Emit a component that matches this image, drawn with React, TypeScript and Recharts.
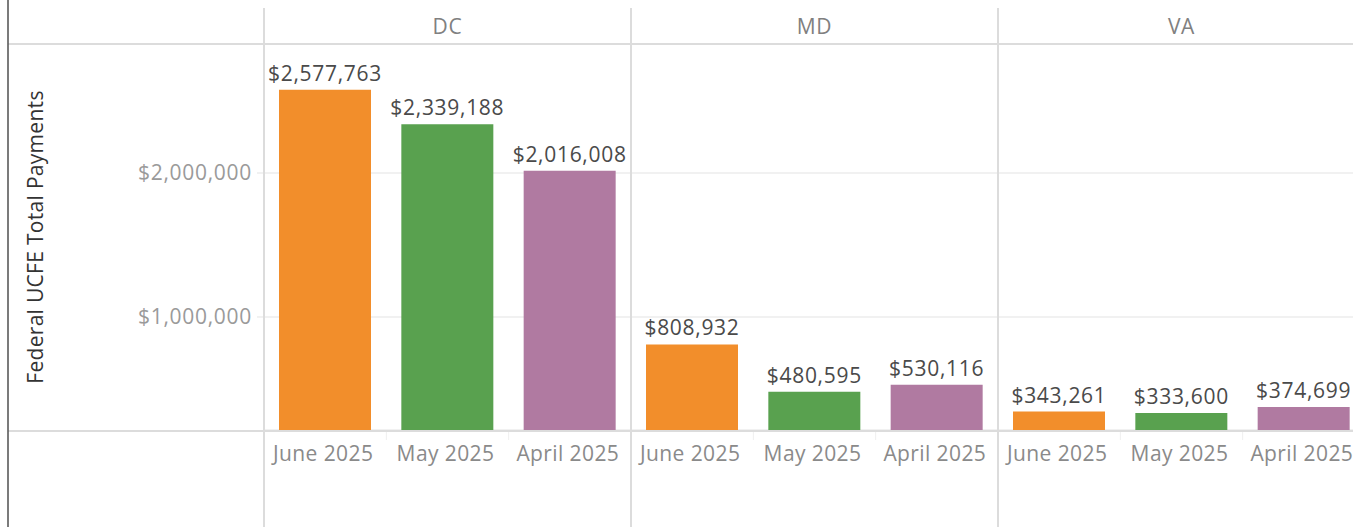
import React from "react";
import { BarChart, Bar, Cell, XAxis, YAxis, CartesianGrid, LabelList, Label } from "recharts";

// Federal UCFE total payments by state and month
const STATES = ["DC", "MD", "VA"];
const MONTHS = ["June 2025", "May 2025", "April 2025"];
const DC_VALUES = [2577763, 2339188, 2016008];
const MD_VALUES = [808932, 480595, 530116];
const VA_VALUES = [343261, 333600, 374699];
const MONTH_COLORS = ["#F28E2B", "#59A14F", "#B07AA1"];
const Y_TICKS = [1000000, 2000000];
const Y_DOMAIN: [number, number] = [215000, 2896000];

const STATE_VALUES = [DC_VALUES, MD_VALUES, VA_VALUES];

const data = STATES.flatMap((state, si) =>
  MONTHS.map((month, mi) => ({
    key: `${state}|${month}`,
    state,
    month,
    value: STATE_VALUES[si][mi],
    color: MONTH_COLORS[mi],
  })),
);

// layout
const VIEW_W = 1353;
const VIEW_H = 527;
const CHART_W = 1365;
const FRAME_LEFT = 8;
const PLOT_LEFT = 264;
const PLOT_TOP = 44;
const PLOT_BOTTOM = 430;
const BAND = (CHART_W - PLOT_LEFT) / data.length;

const FONT = '"Open Sans", "DejaVu Sans", sans-serif';
const FONT_SIZE = 21;
const SPACING = 0.7;

const fmtMoney = (v: number) => `$${v.toLocaleString("en-US")}`;

function MonthTick(props: any) {
  const { x, y, index } = props;
  const row = data[index];
  return (
    <text
      x={x - 2}
      y={y + 31}
      textAnchor="middle"
      fill="#8a8a8a"
      fontSize={FONT_SIZE}
      fontFamily={FONT}
      letterSpacing={0.4}
    >
      {row ? row.month : ""}
    </text>
  );
}

function StateTick(props: any) {
  const { x, y, index } = props;
  if (index % 3 !== 1) return <g />;
  const row = data[index];
  return (
    <text
      x={x}
      y={y - 10}
      textAnchor="middle"
      fill="#808080"
      fontSize={FONT_SIZE}
      fontFamily={FONT}
      letterSpacing={SPACING}
    >
      {row.state}
    </text>
  );
}

function MoneyTick(props: any) {
  const { x, y, payload } = props;
  return (
    <text
      x={x}
      y={y + 7}
      textAnchor="end"
      fill="#9a9a9a"
      fontSize={FONT_SIZE}
      fontFamily={FONT}
      letterSpacing={SPACING}
    >
      {fmtMoney(payload.value)}
    </text>
  );
}

function AxisTitle(props: any) {
  const vb = props.viewBox || { x: 0, y: 0, width: 0, height: 0 };
  const cx = vb.x + 35;
  const cy = vb.y + vb.height / 2;
  return (
    <text
      x={cx}
      y={cy}
      transform={`rotate(-90, ${cx}, ${cy})`}
      textAnchor="middle"
      fill="#333"
      fontSize={FONT_SIZE}
      fontFamily={FONT}
      letterSpacing={0.3}
    >
      Federal UCFE Total Payments
    </text>
  );
}

function ValueLabel(props: any) {
  const { x, y, width, value } = props;
  return (
    <text
      x={Number(x) + Number(width) / 2}
      y={Number(y) - 9}
      textAnchor="middle"
      fill="#4a4a4a"
      fontSize={FONT_SIZE}
      fontFamily={FONT}
      letterSpacing={SPACING}
    >
      {fmtMoney(Number(value))}
    </text>
  );
}

function Frame() {
  const dividers = STATES.map((_, i) => PLOT_LEFT + i * 3 * BAND);
  const separators = data
    .map((_, i) => PLOT_LEFT + i * BAND)
    .filter((_, i) => i % 3 !== 0);
  return (
    <svg
      width={VIEW_W}
      height={VIEW_H}
      style={{ position: "absolute", left: 0, top: 0, pointerEvents: "none" }}
    >
      <line x1={FRAME_LEFT} x2={VIEW_W} y1={PLOT_TOP} y2={PLOT_TOP} stroke="#dcdcdc" strokeWidth={2} />
      <line x1={FRAME_LEFT} x2={VIEW_W} y1={PLOT_BOTTOM + 1} y2={PLOT_BOTTOM + 1} stroke="#dcdcdc" strokeWidth={2} />
      {dividers.map((x) => (
        <line key={x} x1={x} x2={x} y1={8} y2={VIEW_H} stroke="#dcdcdc" strokeWidth={2} />
      ))}
      {separators.map((x) => (
        <line key={x} x1={x} x2={x} y1={PLOT_BOTTOM + 2} y2={PLOT_BOTTOM + 10} stroke="#efefef" strokeWidth={1} />
      ))}
      <line x1={FRAME_LEFT} x2={FRAME_LEFT} y1={0} y2={VIEW_H} stroke="#5a5a5a" strokeWidth={1.6} />
    </svg>
  );
}

export default function App() {
  return (
    <div
      style={{
        position: "absolute",
        left: 0,
        top: 0,
        width: VIEW_W,
        height: VIEW_H,
        overflow: "hidden",
        background: "#fff",
      }}
    >
      <BarChart
        width={CHART_W}
        height={VIEW_H}
        data={data}
        margin={{ top: 8, right: 0, bottom: 0, left: FRAME_LEFT }}
        barSize={92}
      >
        <CartesianGrid vertical={false} stroke="#ededed" strokeWidth={1.5} />
        <XAxis
          dataKey="key"
          height={VIEW_H - PLOT_BOTTOM}
          interval={0}
          tickLine={false}
          axisLine={false}
          tickSize={0}
          tickMargin={0}
          tick={MonthTick}
        />
        <XAxis
          xAxisId="state"
          dataKey="key"
          orientation="top"
          height={PLOT_TOP - 8}
          interval={0}
          tickLine={false}
          axisLine={false}
          tickSize={0}
          tickMargin={0}
          tick={StateTick}
        />
        <YAxis
          width={PLOT_LEFT - FRAME_LEFT}
          domain={Y_DOMAIN}
          ticks={Y_TICKS}
          allowDataOverflow
          axisLine={false}
          tickLine={{ stroke: "#ededed", strokeWidth: 1.5 }}
          tickSize={7}
          tickMargin={5}
          tick={MoneyTick}
        >
          <Label content={AxisTitle} />
        </YAxis>
        <Bar dataKey="value" isAnimationActive={false}>
          {data.map((d) => (
            <Cell key={d.key} fill={d.color} />
          ))}
          <LabelList dataKey="value" content={ValueLabel} />
        </Bar>
      </BarChart>
      <Frame />
    </div>
  );
}
